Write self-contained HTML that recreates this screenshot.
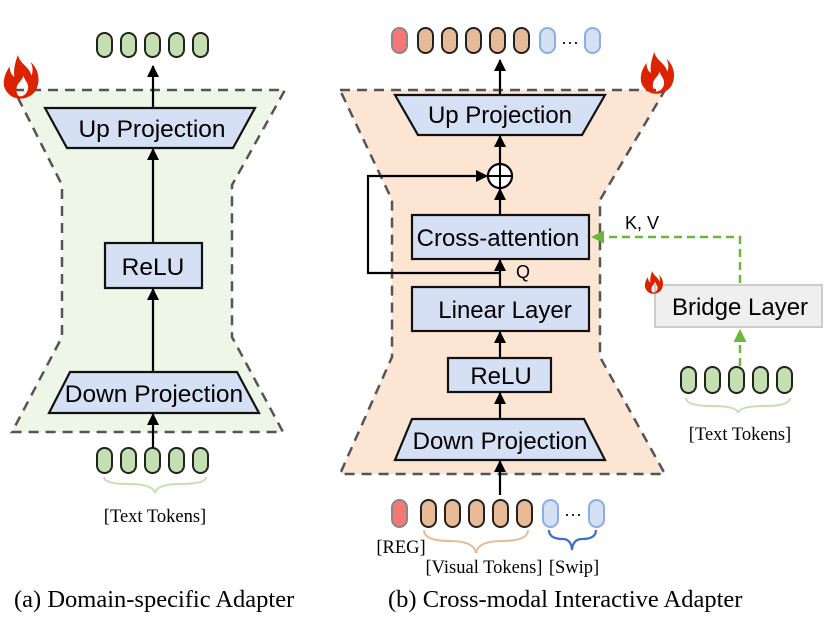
<!DOCTYPE html>
<html><head><meta charset="utf-8"><style>
html,body{margin:0;padding:0;background:#fff;}
svg{display:block;}
.s{font-family:"Liberation Sans",sans-serif;}
.r{font-family:"Liberation Serif",serif;}
</style></head><body>
<svg width="831" height="623" viewBox="0 0 831 623" xmlns="http://www.w3.org/2000/svg">
<defs>
<marker id="ab" markerWidth="12" markerHeight="12" refX="11" refY="6" orient="auto" markerUnits="userSpaceOnUse"><path d="M0,0 L12,6 L0,12 z" fill="#000"/></marker>
<marker id="ag" markerWidth="13" markerHeight="13" refX="12" refY="6.5" orient="auto" markerUnits="userSpaceOnUse"><path d="M0,0 L13,6.5 L0,13 z" fill="#6ab83a"/></marker>
<linearGradient id="rd" x1="0" y1="0" x2="0" y2="1"><stop offset="0" stop-color="#ff0000" stop-opacity="0.1"/><stop offset="0.2" stop-color="#ff0000"/><stop offset="0.9" stop-color="#ff0000"/><stop offset="1" stop-color="#ff0000" stop-opacity="0.2"/></linearGradient>
<g id="fire"><path d="M12,0 C14,8 22,10 24,18 C26,12 24,8 23,6 C30,12 32,22 28,30 C25,36 18,38 14,38 C8,38 2,34 0,27 C-1,20 2,14 5,10 C5,15 7,18 9,19 C8,12 10,6 12,0 Z M14,36 C18,36 21,32 21,28 C21,24 18,22 17,18 C15,23 12,24 11,28 C10,32 12,36 14,36 Z" fill="#dd2200"/></g>
</defs>

<!-- left panel -->
<polygon points="14,90 285,90 232,185 232,337 283,432 12,432 62,337 62,185" fill="#eef6e8" stroke="#555" stroke-width="2.5" stroke-dasharray="10,7"/>
<use href="#fire" transform="translate(4,55) scale(1.15)"/>
<g fill="#c5e0b0" stroke="#222" stroke-width="2">
<rect x="97" y="33" width="15" height="24" rx="7.5"/><rect x="121" y="33" width="15" height="24" rx="7.5"/><rect x="145" y="33" width="15" height="24" rx="7.5"/><rect x="169" y="33" width="15" height="24" rx="7.5"/><rect x="193" y="33" width="15" height="24" rx="7.5"/>
<rect x="97" y="448" width="15" height="25" rx="7.5"/><rect x="121" y="448" width="15" height="25" rx="7.5"/><rect x="145" y="448" width="15" height="25" rx="7.5"/><rect x="169" y="448" width="15" height="25" rx="7.5"/><rect x="193" y="448" width="15" height="25" rx="7.5"/>
</g>
<g stroke="#000" stroke-width="2.2" fill="none">
<line x1="153" y1="108" x2="153" y2="66" marker-end="url(#ab)"/>
<line x1="153" y1="243" x2="153" y2="149" marker-end="url(#ab)"/>
<line x1="153" y1="372" x2="153" y2="289" marker-end="url(#ab)"/>
<line x1="153" y1="448" x2="153" y2="414" marker-end="url(#ab)"/>
</g>
<g fill="#d6e0f5" stroke="#111" stroke-width="2.2">
<polygon points="45,108 255,108 233,148 67,148"/>
<rect x="105" y="243" width="97" height="45"/>
<polygon points="70,372 237,372 259,413 49,413"/>
</g>
<g class="s" font-size="24.5" text-anchor="middle" fill="#000">
<text x="152" y="137">Up Projection</text>
<text x="153" y="275">ReLU</text>
<text x="154" y="402">Down Projection</text>
</g>
<path d="M104,477 Q104,484 128,484 Q153,484 155,493 Q157,484 180,484 Q206,484 206,477" fill="none" stroke="#c5e0b0" stroke-width="2"/>
<text class="r" x="155" y="522" font-size="18.5" text-anchor="middle">[Text Tokens]</text>

<!-- divider -->
<line x1="312" y1="40" x2="312" y2="595" stroke="url(#rd)" stroke-width="2.5" stroke-dasharray="9,5"/>

<!-- right panel -->
<polygon points="340,90 665,90 600,200 600,357 665,474 340,474 392,357 392,200" fill="#fde5d3" stroke="#555" stroke-width="2.5" stroke-dasharray="10,7"/>
<use href="#fire" transform="translate(641,52) scale(1.1)"/>
<g stroke-width="2">
<rect x="392" y="28" width="15" height="25" rx="7.5" fill="#f87676" stroke="#888"/>
<g fill="#e8bb98" stroke="#222"><rect x="418" y="28" width="15" height="25" rx="7.5"/><rect x="442" y="28" width="15" height="25" rx="7.5"/><rect x="466" y="28" width="15" height="25" rx="7.5"/><rect x="490" y="28" width="15" height="25" rx="7.5"/><rect x="514" y="28" width="15" height="25" rx="7.5"/></g>
<g fill="#d6e0f5" stroke="#8aaee6"><rect x="540" y="28" width="15" height="25" rx="7.5"/><rect x="585" y="28" width="15" height="25" rx="7.5"/></g>
<rect x="392" y="500" width="15" height="27" rx="7.5" fill="#f87676" stroke="#888"/>
<g fill="#e8bb98" stroke="#222"><rect x="421" y="500" width="15" height="27" rx="7.5"/><rect x="445" y="500" width="15" height="27" rx="7.5"/><rect x="469" y="500" width="15" height="27" rx="7.5"/><rect x="493" y="500" width="15" height="27" rx="7.5"/><rect x="517" y="500" width="15" height="27" rx="7.5"/></g>
<g fill="#d6e0f5" stroke="#8aaee6"><rect x="543" y="500" width="15" height="27" rx="7.5"/><rect x="589" y="500" width="15" height="27" rx="7.5"/></g>
</g>
<text x="570" y="48" font-size="18" text-anchor="middle" class="s">···</text>
<text x="573" y="520" font-size="18" text-anchor="middle" class="s">···</text>

<g stroke="#000" stroke-width="2.2" fill="none">
<line x1="500" y1="95" x2="500" y2="60" marker-end="url(#ab)"/>
<line x1="500" y1="164" x2="500" y2="136" marker-end="url(#ab)"/>
<line x1="500" y1="215" x2="500" y2="189" marker-end="url(#ab)"/>
<line x1="500" y1="287" x2="500" y2="260" marker-end="url(#ab)"/>
<line x1="500" y1="358" x2="500" y2="332" marker-end="url(#ab)"/>
<line x1="500" y1="419" x2="500" y2="393" marker-end="url(#ab)"/>
<line x1="500" y1="495" x2="500" y2="461" marker-end="url(#ab)"/>
<polyline points="500,273 368,273 368,176 487,176" marker-end="url(#ab)"/>
</g>
<circle cx="500" cy="176" r="12" fill="#fff" stroke="#000" stroke-width="2.2"/>
<line x1="488" y1="176" x2="512" y2="176" stroke="#000" stroke-width="2"/>
<line x1="500" y1="164" x2="500" y2="188" stroke="#000" stroke-width="2"/>

<g fill="#d6e0f5" stroke="#111" stroke-width="2.2">
<polygon points="395,95 605,95 582,135 418,135"/>
<rect x="412" y="215" width="177" height="44"/>
<rect x="412" y="287" width="177" height="44"/>
<rect x="448" y="358" width="103" height="34"/>
<polygon points="412,419 584,419 605,460 395,460"/>
</g>
<g class="s" font-size="24" text-anchor="middle" fill="#000">
<text x="500" y="123">Up Projection</text>
<text x="498" y="246">Cross-attention</text>
<text x="505" y="318">Linear Layer</text>
<text x="501" y="384">ReLU</text>
<text x="500" y="449">Down Projection</text>
</g>
<text class="s" x="523" y="278" font-size="18" text-anchor="middle">Q</text>
<text class="s" x="642" y="229" font-size="18" text-anchor="middle">K, V</text>

<!-- bridge -->
<polyline points="740,283 740,237 592,237" fill="none" stroke="#6ab83a" stroke-width="2.5" stroke-dasharray="8,5" marker-end="url(#ag)"/>
<line x1="740" y1="366" x2="740" y2="330" stroke="#6ab83a" stroke-width="2.5" stroke-dasharray="8,5" marker-end="url(#ag)"/>
<rect x="655" y="285" width="167" height="42" fill="#efefef" stroke="#ccc" stroke-width="2"/>
<text class="s" x="740" y="315" font-size="24" text-anchor="middle">Bridge Layer</text>
<use href="#fire" transform="translate(645,271) scale(0.6)"/>
<g fill="#c5e0b0" stroke="#222" stroke-width="2">
<rect x="681" y="367" width="15" height="26" rx="7.5"/><rect x="705" y="367" width="15" height="26" rx="7.5"/><rect x="729" y="367" width="15" height="26" rx="7.5"/><rect x="753" y="367" width="15" height="26" rx="7.5"/><rect x="777" y="367" width="15" height="26" rx="7.5"/>
</g>
<path d="M686,398 Q686,406 712,406 Q737,406 738,413 Q740,406 764,406 Q790,406 790,398" fill="none" stroke="#c5e0b0" stroke-width="2"/>
<text class="r" x="740" y="440" font-size="18.5" text-anchor="middle">[Text Tokens]</text>

<!-- bottom labels -->
<text class="r" x="401" y="553" font-size="18.5" text-anchor="middle">[REG]</text>
<path d="M424,530 Q424,541 450,541 Q474,541 476,553 Q478,541 502,541 Q528,541 528,530" fill="none" stroke="#e8bb98" stroke-width="2"/>
<text class="r" x="484" y="573" font-size="18.5" text-anchor="middle">[Visual Tokens]</text>
<path d="M549,530 Q549,539 563,539 Q571,539 572,550 Q573,539 582,539 Q596,539 596,530" fill="none" stroke="#3a6ecf" stroke-width="2.2"/>
<text class="r" x="574" y="573" font-size="18.5" text-anchor="middle">[Swip]</text>

<text class="r" x="14" y="607" font-size="24.5">(a) Domain-specific Adapter</text>
<text class="r" x="388" y="607" font-size="24.5">(b) Cross-modal Interactive Adapter</text>
</svg>
</body></html>
